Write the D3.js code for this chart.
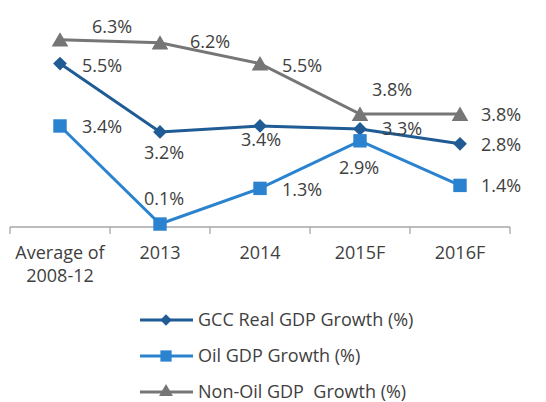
<!DOCTYPE html>
<html>
<head>
<meta charset="utf-8">
<script src="https://cdn.jsdelivr.net/npm/d3@7"></script>
<style>
  body { margin: 0; background: #fff; }
  text { font-family: "Open Sans", sans-serif; fill: #404040; white-space: pre; }
</style>
</head>
<body>
<div id="chart"></div>
<script>
// categories and series
var categories = ["Average of 2008-12", "2013", "2014", "2015F", "2016F"];
var gdpGrowth = [5.5, 3.2, 3.4, 3.3, 2.8];
var oilGrowth = [3.4, 0.1, 1.3, 2.9, 1.4];
var nonOilGrowth = [6.3, 6.2, 5.5, 3.8, 3.8];
var seriesNames = ["GCC Real GDP Growth (%)", "Oil GDP Growth (%)", "Non-Oil GDP  Growth (%)"];

// label offsets (dx, dy from the point) for each series
var gdpLabelOff = [[42, 2], [4, 21], [1, 14], [42, 0], [41, 1]];
var oilLabelOff = [[42, 1], [4, -25], [42, 1], [-1, 27], [41, 0]];
var nonOilLabelOff = [[52, -13], [50, -1], [42, 2], [32, -24], [41, 1]];

var width = 546, height = 402;

var svg = d3.select("#chart").append("svg")
    .attr("width", width)
    .attr("height", height);

var xScale = d3.scaleBand()
    .domain(categories)
    .range([10, 510]);

var yScale = d3.scaleLinear()
    .domain([0, 7])
    .range([227, 19]);

function cx(i) { return xScale(categories[i]) + xScale.bandwidth() / 2; }

// x axis
var xAxis = svg.append("g")
    .attr("transform", "translate(0," + yScale(0) + ")");

xAxis.append("line")
    .attr("x1", 10).attr("x2", 510)
    .attr("stroke", "#a6a6a6").attr("stroke-width", 1.3);

var tickPos = categories.map(function(c) { return xScale(c); }).concat([510]);
xAxis.selectAll(".tk").data(tickPos).enter().append("line")
    .attr("x1", function(d) { return d; })
    .attr("x2", function(d) { return d; })
    .attr("y1", 0).attr("y2", 7)
    .attr("stroke", "#a6a6a6").attr("stroke-width", 1.3);

categories.forEach(function(c, i) {
  var t = xAxis.append("text")
      .attr("x", cx(i))
      .attr("y", 32)
      .attr("text-anchor", "middle")
      .style("font-size", "18px");
  if (i === 0) {
    t.append("tspan").attr("x", cx(i)).text("Average of");
    t.append("tspan").attr("x", cx(i)).attr("dy", 23).text("2008-12");
  } else {
    t.text(c);
  }
});

var diamond = d3.symbolSquare; // rotated 45deg below

var series = [
  { name: seriesNames[0], values: gdpGrowth, color: "#1f5b94", marker: diamond, size: 95, rot: 45, off: gdpLabelOff },
  { name: seriesNames[1], values: oilGrowth, color: "#2b83d0", marker: d3.symbolSquare, size: 180, rot: 0, off: oilLabelOff },
  { name: seriesNames[2], values: nonOilGrowth, color: "#767676", marker: d3.symbolTriangle, size: 120, rot: 0, off: nonOilLabelOff }
];

var line = d3.line()
    .x(function(d, i) { return cx(i); })
    .y(function(d) { return yScale(d); });

// draw order: non-oil, gdp, oil
[series[2], series[0], series[1]].forEach(function(s) {
  svg.append("path")
      .attr("d", line(s.values))
      .attr("fill", "none")
      .attr("stroke", s.color)
      .attr("stroke-width", 3);

  svg.selectAll(null).data(s.values).enter().append("path")
      .attr("d", d3.symbol().type(s.marker).size(s.size))
      .attr("transform", function(d, i) {
        var dy = s.marker === d3.symbolTriangle ? 2 : 0;
        return "translate(" + cx(i) + "," + (yScale(d) + dy) + ") rotate(" + s.rot + ")";
      })
      .attr("fill", s.color);
});

// data labels
series.forEach(function(s) {
  svg.selectAll(null).data(s.values).enter().append("text")
      .attr("x", function(d, i) { return cx(i) + s.off[i][0]; })
      .attr("y", function(d, i) { return yScale(d) + s.off[i][1]; })
      .attr("dy", "0.35em")
      .attr("text-anchor", "middle")
      .style("font-size", "18px")
      .text(function(d) { return d.toFixed(1) + "%"; });
});

// legend
var legend = svg.append("g");
series.forEach(function(s, i) {
  var y = 320 + i * 36;
  legend.append("line")
      .attr("x1", 140).attr("x2", 193)
      .attr("y1", y).attr("y2", y)
      .attr("stroke", s.color).attr("stroke-width", 3);
  legend.append("path")
      .attr("d", d3.symbol().type(s.marker).size(s.size * 0.7))
      .attr("transform", "translate(166," + y + ") rotate(" + s.rot + ")")
      .attr("fill", s.color);
  legend.append("text")
      .attr("x", 198)
      .attr("y", y)
      .attr("dy", "0.35em")
      .style("font-size", "18px")
      .text(s.name);
});
</script>
</body>
</html>
